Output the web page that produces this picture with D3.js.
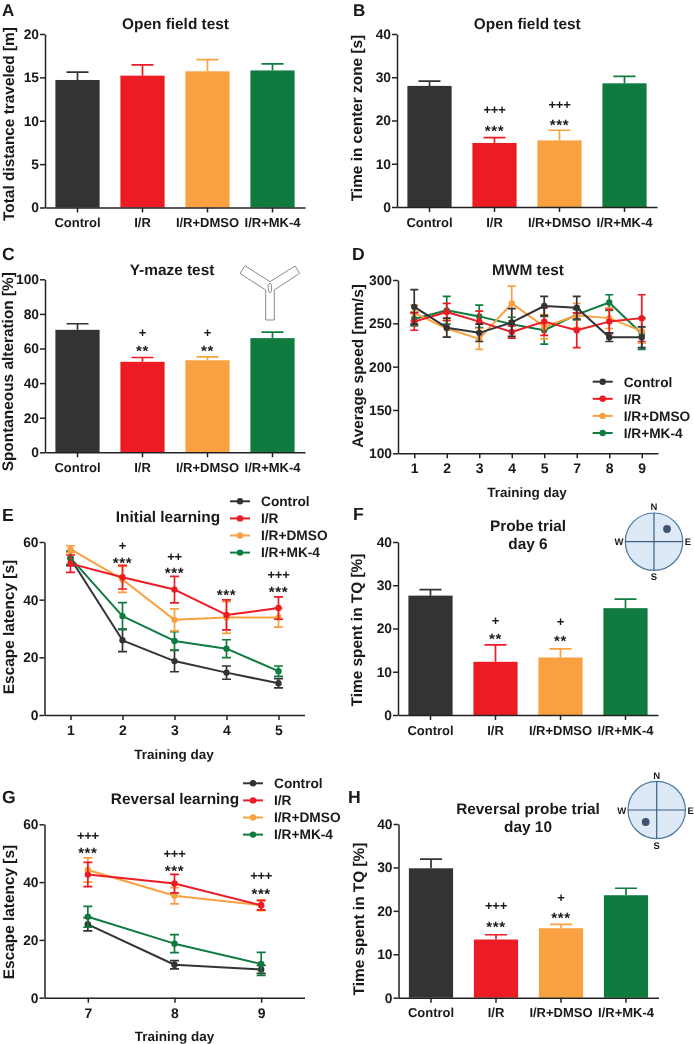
<!DOCTYPE html>
<html><head><meta charset="utf-8">
<script src="https://cdn.jsdelivr.net/npm/d3@7"></script>
<style>
html,body{margin:0;padding:0;background:#fff}
svg{display:block;filter:blur(0.3px)}
text{font-family:"Liberation Sans",Arial,sans-serif;font-weight:700;fill:#1a1a1a;text-rendering:geometricPrecision}
</style></head><body>
<svg id="c" width="694" height="1044"></svg>
<script>
const groups = ["Control","I/R","I/R+DMSO","I/R+MK-4"];
const colors = ["#333333","#ed1c24","#f9a141","#0f7b3f"];

// Bar panels: means and upper SEM
const distanceMean = [14.7,15.2,15.7,15.8];
const distanceErr  = [0.9,1.25,1.35,0.75];
const centerMean = [28.0,14.8,15.4,28.6];
const centerErr  = [1.1,1.25,2.35,1.6];
const alternationMean = [70.8,52.3,53.2,66.0];
const alternationErr  = [3.5,2.5,2.0,3.5];
const probeMean = [27.6,12.3,13.3,24.7];
const probeErr  = [1.4,3.9,2.0,2.1];
const reversalProbeMean = [29.8,13.4,16.0,23.6];
const reversalProbeErr  = [2.1,1.1,0.9,1.6];

// MWM average speed
const speedDays = ["1","2","3","4","5","7","8","9"];
const speedMean = [
  [269,245,239,251,270,268,234,234],
  [252,263,252,240,252,242,252,256],
  [262,244,232,273,246,259,256,241],
  [255,265,258,249,242,260,274,238]];
const speedErr = [
  [20,11,10,16,11,13,5,12],
  [10,10,12,7,16,20,14,27],
  [9,10,12,20,14,14,12,14],
  [8,16,13,8,16,6,9,18]];

// Initial learning
const initialDays = ["1","2","3","4","5"];
const initialMean = [
  [54.3,25.9,18.7,14.7,11.0],
  [52.5,47.8,43.5,34.7,37.1],
  [57.5,47.0,33.0,33.8,33.8],
  [54.5,34.3,25.7,23.0,15.2]];
const initialErr = [
  [2.5,3.9,3.7,2.3,1.6],
  [3.0,4.1,4.6,5.2,3.9],
  [1.2,4.5,3.8,5.5,3.3],
  [2.3,4.7,3.2,3.1,1.8]];

// Reversal learning
const reversalDays = ["7","8","9"];
const reversalMean = [
  [25.4,11.4,9.8],
  [42.6,39.5,32.0],
  [44.2,35.3,32.0],
  [28.0,18.7,11.7]];
const reversalErr = [
  [2.3,1.4,1.4],
  [4.2,3.2,1.6],
  [4.2,2.8,1.9],
  [3.6,3.1,4.0]];

// Significance marks: category, text, value height
const centerMarks = [["I/R","+++",22.6],["I/R","***",18.6],["I/R+DMSO","+++",23.6],["I/R+DMSO","***",20]];
const alternationMarks = [["I/R","+",69],["I/R","**",60.7],["I/R+DMSO","+",69],["I/R+DMSO","**",60.7]];
const initialMarks = [["2","+",58.7],["2","***",54.1],["3","++",55],["3","***",50.6],["4","***",42.9],["5","+++",48.6],["5","***",44.2]];
const probeMarks = [["I/R","+",21.9],["I/R","**",18.6],["I/R+DMSO","+",21.5],["I/R+DMSO","**",18.1]];
const reversalMarks = [["7","+++",56],["7","***",51.4],["8","+++",49.7],["8","***",45.1],["9","+++",42.1],["9","***",37.3]];
const reversalProbeMarks = [["I/R","+++",21.1],["I/R","***",17.2],["I/R+DMSO","+",23],["I/R+DMSO","***",19.3]];

const svg = d3.select("#c");
const AXIS = "#222";

function txt(s,x,y,size,anchor){
  return svg.append("text").attr("x",x).attr("y",y).attr("font-size",size)
    .attr("text-anchor",anchor||"middle").text(s);
}
function yTitle(s,x,y){
  svg.append("text").attr("transform",`translate(${x},${y}) rotate(-90)`)
    .attr("font-size",15.4).attr("text-anchor","middle").text(s);
}
function styleAxis(g){
  g.selectAll("path,line").attr("stroke",AXIS).attr("stroke-width",1.5);
  g.selectAll("text").style("fill","#1a1a1a");
}
function drawY(y,x0,ticks){
  const g = svg.append("g").attr("transform",`translate(${x0},0)`)
    .call(d3.axisLeft(y).tickValues(ticks).tickSize(5).tickSizeOuter(0).tickPadding(1));
  g.attr("font-family",null);
  g.selectAll("text").attr("font-size",13.8);
  styleAxis(g);
}
function drawX(x,y0,size,pad){
  const g = svg.append("g").attr("transform",`translate(0,${y0})`)
    .call(d3.axisBottom(x).tickSize(5).tickSizeOuter(0).tickPadding(pad));
  g.attr("font-family",null);
  g.selectAll("text").attr("font-size",size);
  styleAxis(g);
}
function marks(list,x,y){
  list.forEach(([c,t,v])=>{
    const star = t[0]==="*";
    const cx = x(c)+(x.bandwidth?x.bandwidth()/2:0);
    svg.append("text").attr("x",cx).attr("y",y(v))
      .attr("dy",star?"0.6em":"0.34em")
      .attr("font-size",star?15:13).attr("letter-spacing",star?0.6:-0.3)
      .attr("text-anchor","middle").text(t);
  });
}
function barPanel(p){
  const x = d3.scaleBand().domain(groups).range([p.x0,p.x1]).paddingInner(0.32).paddingOuter(0.16);
  const y = d3.scaleLinear().domain([0,p.max]).range([p.y0,p.y1]);
  const g = svg.append("g");
  g.selectAll("rect").data(groups).join("rect")
    .attr("x",d=>x(d)).attr("width",x.bandwidth())
    .attr("y",(d,i)=>y(p.mean[i])).attr("height",(d,i)=>y(0)-y(p.mean[i]))
    .attr("fill",(d,i)=>colors[i]);
  const cap = 11;
  groups.forEach((d,i)=>{
    const cx = x(d)+x.bandwidth()/2, top = y(p.mean[i]+p.err[i]);
    g.append("path").attr("d",`M${cx},${y(p.mean[i])}V${top}M${cx-cap},${top}H${cx+cap}`)
      .attr("fill","none").attr("stroke",colors[i]).attr("stroke-width",1.7);
  });
  drawY(y,p.x0,p.ticks);
  drawX(x,p.y0,13,5.3);
  if(p.marks) marks(p.marks,x,y);
}
function linePanel(p){
  const x = d3.scalePoint().domain(p.days).range([p.x0,p.x1]).padding(0.5);
  const y = d3.scaleLinear().domain([p.min,p.max]).range([p.y0,p.y1]);
  const line = d3.line().x((d,i)=>x(p.days[i])).y(d=>y(d));
  p.order.forEach(s=>{
    const g = svg.append("g");
    const cap = p.cap;
    p.days.forEach((d,i)=>{
      const cx=x(d), hi=y(p.mean[s][i]+p.err[s][i]), lo=y(p.mean[s][i]-p.err[s][i]);
      g.append("path").attr("d",`M${cx},${lo}V${hi}M${cx-cap},${hi}H${cx+cap}M${cx-cap},${lo}H${cx+cap}`)
        .attr("fill","none").attr("stroke",colors[s]).attr("stroke-width",1.7);
    });
    g.append("path").attr("d",line(p.mean[s])).attr("fill","none")
      .attr("stroke",colors[s]).attr("stroke-width",2).attr("stroke-linejoin","round");
    g.selectAll("circle").data(p.mean[s]).join("circle")
      .attr("cx",(d,i)=>x(p.days[i])).attr("cy",d=>y(d)).attr("r",3.2).attr("fill",colors[s]);
  });
  drawY(y,p.x0,p.ticks);
  drawX(x,p.y0,14,5);
  if(p.marks) marks(p.marks,x,y);
}
function legend(x,y0){
  groups.forEach((g,i)=>{
    const y=y0+i*17.1;
    svg.append("line").attr("x1",x).attr("x2",x+20).attr("y1",y).attr("y2",y)
      .attr("stroke",colors[i]).attr("stroke-width",2);
    svg.append("circle").attr("cx",x+10).attr("cy",y).attr("r",3.2).attr("fill",colors[i]);
    txt(g,x+31,y+4.8,13.7,"start");
  });
}
function compass(cx,cy,dx,dy){
  svg.append("circle").attr("cx",cx).attr("cy",cy).attr("r",28.7)
    .attr("fill","#dde9f6").attr("stroke","#4a76a0").attr("stroke-width",1.2);
  svg.append("path").attr("d",`M${cx-28.7},${cy}H${cx+28.7}M${cx},${cy-28.7}V${cy+28.7}`)
    .attr("stroke","#3e5f80").attr("stroke-width",1.2);
  svg.append("circle").attr("cx",cx+dx).attr("cy",cy+dy).attr("r",3.9).attr("fill","#3f5470");
  txt("N",cx,cy-31.5,9.5); txt("S",cx,cy+38.5,9.5);
  txt("W",cx-35,cy+3.5,9.5); txt("E",cx+34,cy+3.5,9.5);
}

// A
barPanel({mean:distanceMean,err:distanceErr,max:20,ticks:[0,5,10,15,20],x0:45,x1:305,y0:207.5,y1:34});
txt("Open field test",175.5,29,15.4); yTitle("Total distance traveled [m]",13.5,124); txt("A",2,15.5,17,"start");
// B
barPanel({mean:centerMean,err:centerErr,max:40,ticks:[0,10,20,30,40],marks:centerMarks,x0:397,x1:657,y0:207,y1:34});
txt("Open field test",527.3,29,15.4); yTitle("Time in center zone [s]",361.5,118); txt("B",353,15.5,17,"start");
// C
barPanel({mean:alternationMean,err:alternationErr,max:100,ticks:[0,20,40,60,80,100],marks:alternationMarks,x0:45,x1:305,y0:452.3,y1:279.3});
txt("Y-maze test",172,275,15.4); yTitle("Spontaneous alteration [%]",13,371.7); txt("C",2,260,17.6,"start");
svg.append("path").attr("d","M240,273.5L245,265.7L270,281.7L295,266L299.7,273.3L274.3,290V320H265.7V290Z")
  .attr("fill","#fff").attr("stroke","#8a8a8a").attr("stroke-width",1);
svg.append("path").attr("d","M268,285L270,283L271.5,285L271.5,291L270,293L268.5,291Z")
  .attr("fill","#fff").attr("stroke","#777").attr("stroke-width",0.8);
// D
linePanel({days:speedDays,mean:speedMean,err:speedErr,min:100,max:300,ticks:[100,150,200,250,300],order:[3,2,1,0],cap:4,x0:398,x1:658,y0:453.3,y1:280});
txt("MWM test",528,275,15.4); yTitle("Average speed [mm/s]",362.5,366); txt("D",352,260,17.6,"start");
txt("Training day",527,496.5,13.5); legend(592.7,381.7);
// E
linePanel({days:initialDays,mean:initialMean,err:initialErr,min:0,max:60,ticks:[0,20,40,60],order:[0,3,2,1],cap:4.5,marks:initialMarks,x0:44.5,x1:304.5,y0:715,y1:542});
txt("Initial learning",168,521.7,15.4); yTitle("Escape latency [s]",13.5,627); txt("E",2,520.7,17.6,"start");
txt("Training day",174,759,13.5); legend(230,501.3);
// F
barPanel({mean:probeMean,err:probeErr,max:40,ticks:[0,10,20,30,40],marks:probeMarks,x0:398,x1:658,y0:715,y1:542});
txt("Probe trial",528,531,15.4); txt("day 6",528,548.7,15.4); yTitle("Time spent in TQ [%]",361.5,630); txt("F",353,520,17.6,"start");
compass(654,541.7,13,-12.7);
// G
linePanel({days:reversalDays,mean:reversalMean,err:reversalErr,min:0,max:60,ticks:[0,20,40,60],order:[0,3,2,1],cap:4.5,marks:reversalMarks,x0:44.5,x1:304.5,y0:997.7,y1:824.3});
txt("Reversal learning",175,804,15.4); yTitle("Escape latency [s]",13.5,912); txt("G",2,803,17.6,"start");
txt("Training day",174.5,1041,13.5); legend(243,783.3);
// H
barPanel({mean:reversalProbeMean,err:reversalProbeErr,max:40,ticks:[0,10,20,30,40],marks:reversalProbeMarks,x0:398.5,x1:658.5,y0:997.7,y1:824});
txt("Reversal probe trial",528,814,15.4); txt("day 10",528,832,15.4); yTitle("Time spent in TQ [%]",363.5,919); txt("H",348,803,17.6,"start");
compass(656.7,810,-11,12);
</script></body></html>
